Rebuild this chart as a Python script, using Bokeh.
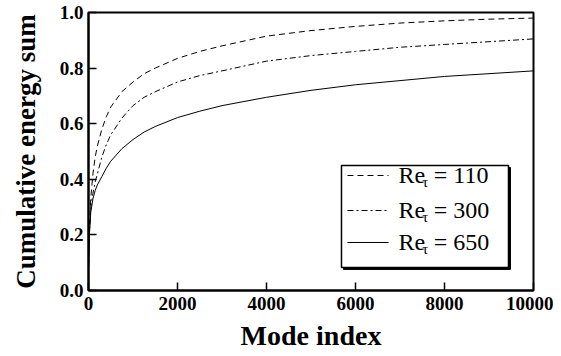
from bokeh.plotting import figure
from bokeh.embed import file_html
from bokeh.resources import INLINE
from bokeh.models import FixedTicker, Range1d
from bokeh.core.properties import value

# ---- data ----
modes = [1, 20, 50, 100, 150, 200, 300, 400, 500, 750, 1000, 1250, 1500, 2000,
         2500, 3000, 4000, 5000, 6000, 7000, 8000, 9000, 10000]
re110 = [0.09, 0.20, 0.33, 0.42, 0.48, 0.52, 0.58, 0.625, 0.66, 0.715, 0.75,
         0.78, 0.80, 0.835, 0.86, 0.88, 0.915, 0.935, 0.95, 0.962, 0.97, 0.976, 0.98]
re300 = [0.09, 0.20, 0.30, 0.35, 0.39, 0.42, 0.48, 0.525, 0.56, 0.62, 0.665,
         0.695, 0.715, 0.75, 0.773, 0.79, 0.825, 0.845, 0.86, 0.875, 0.885, 0.895, 0.905]
re650 = [0.08, 0.20, 0.28, 0.33, 0.36, 0.38, 0.41, 0.44, 0.465, 0.51, 0.543,
         0.57, 0.59, 0.622, 0.645, 0.665, 0.695, 0.72, 0.74, 0.755, 0.77, 0.78, 0.79]
series_labels = ["110", "300", "650"]
x_ticks = [0, 2000, 4000, 6000, 8000, 10000]
y_ticks = [0.0, 0.2, 0.4, 0.6, 0.8, 1.0]

SERIF = "Liberation Serif"
dashes = ["6 4", "6 3 2 3", "solid"]
series = [re110, re300, re650]

p = figure(frame_width=445, frame_height=278, output_backend="svg",
           toolbar_location=None, x_range=Range1d(0, 10000), y_range=Range1d(0, 1),
           min_border_left=88, min_border_right=20, min_border_top=12,
           min_border_bottom=58, background_fill_color="white",
           border_fill_color="white")
p.grid.visible = False
p.outline_line_color = "black"
p.outline_line_width = 2

for ys, d in zip(series, dashes):
    p.line(modes, ys, line_color="black", line_width=1, line_dash=d)

for ax in (p.xaxis[0], p.yaxis[0]):
    ax.axis_line_width = 2
    ax.axis_line_color = "black"
    ax.major_tick_in = 8
    ax.major_tick_out = 0
    ax.major_tick_line_width = 1.5
    ax.minor_tick_line_color = None
    ax.major_label_text_font = SERIF
    ax.major_label_text_font_style = "bold"
    ax.major_label_text_font_size = "19px"
    ax.major_label_text_color = "black"
    ax.axis_label_text_font = SERIF
    ax.axis_label_text_font_style = "bold"
    ax.axis_label_text_font_size = "28px"
    ax.axis_label_text_color = "black"

p.yaxis[0].axis_label_text_font_size = "27px"
p.xaxis[0].ticker = FixedTicker(ticks=x_ticks)
p.yaxis[0].ticker = FixedTicker(ticks=y_ticks)
p.yaxis[0].major_label_overrides = {v: f"{v:.1f}" for v in y_ticks}
p.xaxis[0].axis_label = "Mode index"
p.yaxis[0].axis_label = "Cumulative energy sum"
p.xaxis[0].major_label_standoff = 6
p.yaxis[0].major_label_standoff = 5
p.xaxis[0].axis_label_standoff = 7
p.yaxis[0].axis_label_standoff = 16

# ---- legend (drawn manually to allow subscript tau) ----
bx0, bx1, by0, by1 = 5685, 9438, 0.083, 0.4496
sx, sy = 45, 0.0072
p.quad(left=[bx0 + sx], right=[bx1 + sx], bottom=[by0 - sy], top=[by1 - sy],
       fill_color="black", line_color="black")
p.quad(left=[bx0], right=[bx1], bottom=[by0], top=[by1],
       fill_color="white", line_color="black", line_width=1.5)
rows = [0.4137, 0.2878, 0.1727]
for ry, d, lab in zip(rows, dashes, series_labels):
    p.line([5820, 6742], [ry, ry], line_color="black", line_width=1, line_dash=d)
    p.text(x=[6966], y=[ry], text=["Re"], text_font=value(SERIF),
           text_font_size=value("24px"), text_baseline="middle", text_color="black")
    p.text(x=[7500], y=[ry], text=["τ"], text_font=value(SERIF),
           text_font_size=value("15px"), text_baseline="middle", y_offset=7,
           text_color="black")
    p.text(x=[7760], y=[ry], text=["= " + lab], text_font=value(SERIF),
           text_font_size=value("24px"), text_baseline="middle", text_color="black")

open("out.html", "w").write(file_html(p, INLINE))
